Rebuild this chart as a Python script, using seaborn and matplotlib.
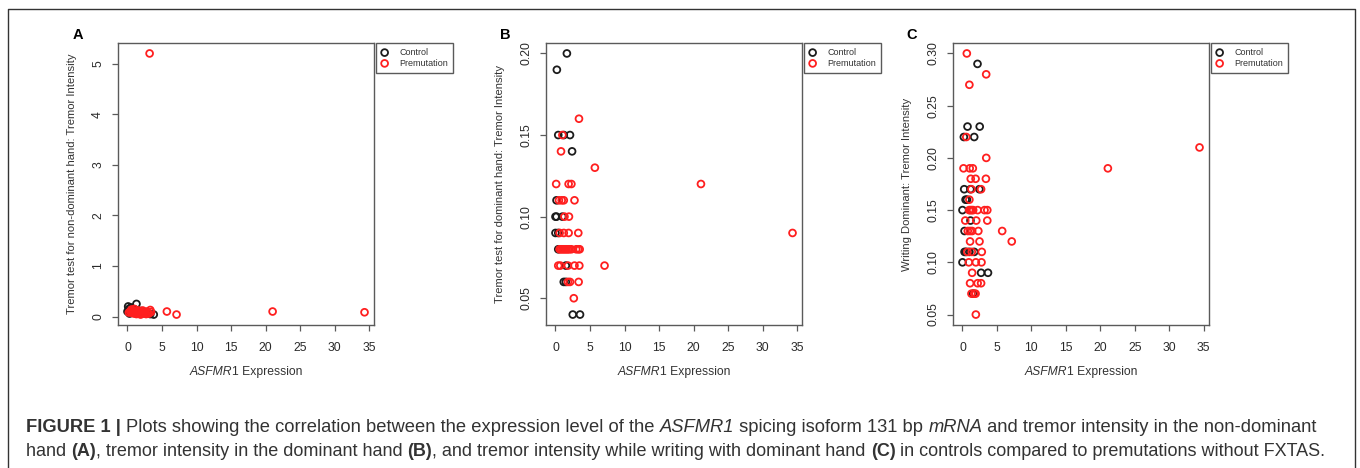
import numpy as np
import pandas as pd
import matplotlib
matplotlib.use('Agg')
import matplotlib.pyplot as plt
import seaborn as sns
from matplotlib.lines import Line2D
from matplotlib.ticker import MultipleLocator

# ---- data ----
groups = ['Control', 'Premutation']

# A: non-dominant hand
a_ctrl_x = [0.0, 0.2, 0.3, 0.5, 0.7, 1.0, 1.3, 1.6, 2.0, 2.4, 2.8, 3.3, 3.8, 0.1, 0.6, 1.2, 2.2]
a_ctrl_y = [0.10, 0.15, 0.06, 0.18, 0.12, 0.14, 0.25, 0.09, 0.11, 0.07, 0.08, 0.05, 0.04, 0.20, 0.08, 0.13, 0.10]
a_prem_x = [0.2, 0.4, 0.5, 0.7, 0.8, 0.9, 1.0, 1.1, 1.2, 1.3, 1.4, 1.5, 1.6, 1.7, 1.8, 1.9, 2.0, 2.1,
            2.3, 2.5, 2.7, 2.9, 3.1, 3.3, 3.4, 0.6, 1.0, 1.5, 2.2, 2.8, 3.2, 5.7, 7.1, 21.0, 34.3]
a_prem_y = [0.08, 0.10, 0.12, 0.07, 0.09, 0.11, 0.06, 0.08, 0.10, 0.05, 0.07, 0.09, 0.12, 0.06, 0.08, 0.04,
            0.07, 0.09, 0.06, 0.08, 0.05, 0.07, 0.06, 0.13, 0.09, 0.14, 0.15, 0.11, 0.12, 0.10,
            5.20, 0.10, 0.04, 0.10, 0.085]

# B: dominant hand
b_ctrl_x = [1.65, 0.2, 0.4, 1.2, 2.1, 2.4, 0.15, 0.0, 0.15, 1.0, 0.0, 0.4, 0.4, 1.5, 1.2, 1.5, 2.5, 3.55]
b_ctrl_y = [0.20, 0.19, 0.15, 0.15, 0.15, 0.14, 0.11, 0.10, 0.10, 0.10, 0.09, 0.09, 0.08, 0.07, 0.06, 0.06, 0.04, 0.04]
b_prem_x = [3.4, 1.0, 0.8, 5.7, 0.1, 1.9, 2.3, 21.05, 0.5, 0.9, 1.2, 2.75, 1.3, 1.95,
            0.6, 1.2, 1.9, 3.3, 34.3,
            0.6, 0.8, 1.0, 1.2, 1.4, 1.6, 1.8, 2.0, 2.3, 3.0, 3.3, 3.5,
            0.4, 0.7, 1.8, 2.75, 3.45, 7.1,
            1.8, 2.1, 3.35, 2.65]
b_prem_y = [0.16, 0.15, 0.14, 0.13, 0.12, 0.12, 0.12, 0.12, 0.11, 0.11, 0.11, 0.11, 0.10, 0.10,
            0.09, 0.09, 0.09, 0.09, 0.09,
            0.08, 0.08, 0.08, 0.08, 0.08, 0.08, 0.08, 0.08, 0.08, 0.08, 0.08, 0.08,
            0.07, 0.07, 0.07, 0.07, 0.07, 0.07,
            0.06, 0.06, 0.06, 0.05]

# C: writing, dominant hand
c_ctrl_x = [2.18, 0.73, 2.5, 0.2, 1.7, 0.25, 1.15, 2.45, 0.45, 0.65, 0.0, 1.16, 0.3,
            0.3, 0.5, 1.0, 1.7, 0.0, 2.7, 3.7, 1.55]
c_ctrl_y = [0.29, 0.23, 0.23, 0.22, 0.22, 0.17, 0.17, 0.17, 0.16, 0.16, 0.15, 0.14, 0.13,
            0.11, 0.11, 0.11, 0.11, 0.10, 0.09, 0.09, 0.07]
c_prem_x = [0.63, 3.44, 1.0, 0.55, 34.4, 3.45, 0.15, 1.05, 1.5, 21.1, 1.2, 1.9, 3.4, 1.3, 2.7, 1.0,
            0.97, 1.16, 1.35, 1.55, 2.2, 3.2, 3.6, 0.4, 2.0, 3.6, 0.77, 1.1, 1.4, 2.3, 5.76,
            1.1, 2.47, 7.15, 0.7, 1.35, 2.8, 0.92, 1.94, 2.76, 1.4, 1.1, 2.2, 2.7, 1.3, 1.7, 1.9, 1.94]
c_prem_y = [0.30, 0.28, 0.27, 0.22, 0.21, 0.20, 0.19, 0.19, 0.19, 0.19, 0.18, 0.18, 0.18, 0.17, 0.17, 0.16,
            0.15, 0.15, 0.15, 0.15, 0.15, 0.15, 0.15, 0.14, 0.14, 0.14, 0.13, 0.13, 0.13, 0.13, 0.13,
            0.12, 0.12, 0.12, 0.11, 0.11, 0.11, 0.10, 0.10, 0.10, 0.09, 0.08, 0.08, 0.08, 0.07, 0.07, 0.07, 0.05]

x_ticks = [0, 5, 10, 15, 20, 25, 30, 35]
ylabels = ['Tremor test for non-dominant hand: Tremor Intensity',
           'Tremor test for dominant hand: Tremor Intensity',
           'Writing Dominant: Tremor Intensity']
letters = ['A', 'B', 'C']

sns.set_style('ticks')
plt.rcParams['font.family'] = ['Liberation Sans', 'DejaVu Sans']

W, H = 1360, 468
fig = plt.figure(figsize=(W / 100, H / 100), dpi=100)
r = fig.canvas.get_renderer()

CTRL = '#1c1c1c'
PREM = '#ff1f1f'
GREY = '#5a5a5a'
TXT = '#333333'


def text_width(s, **kw):
    t1 = fig.text(0, 0, s + 'x', **kw)
    t2 = fig.text(0, 0, 'x', **kw)
    w = t1.get_window_extent(r).width - t2.get_window_extent(r).width
    t1.remove()
    t2.remove()
    return w


def rich_line(x_px, y_px, pieces, size, center=False, color=TXT):
    widths = [text_width(s, fontsize=size, fontweight=wt, fontstyle=st) for s, wt, st in pieces]
    x = x_px - sum(widths) / 2 if center else x_px
    for (s, wt, st), w in zip(pieces, widths):
        fig.text(x / W, 1 - y_px / H, s, fontsize=size, fontweight=wt, fontstyle=st,
                 ha='left', va='center', color=color)
        x += w


panel_data = [
    (a_ctrl_x, a_ctrl_y, a_prem_x, a_prem_y, 1.0),
    (b_ctrl_x, b_ctrl_y, b_prem_x, b_prem_y, 0.05),
    (c_ctrl_x, c_ctrl_y, c_prem_x, c_prem_y, 0.05),
]
lefts = [118, 546, 953]
letter_x = [78, 505, 912]
ax_w, ax_top, ax_bot = 256, 43, 325

for i, (cx, cy, px, py, ystep) in enumerate(panel_data):
    left = lefts[i]
    ax = fig.add_axes([left / W, (H - ax_bot) / H, ax_w / W, (ax_bot - ax_top) / H])
    df = pd.DataFrame({'x': cx + px, 'y': cy + py,
                       'group': [groups[0]] * len(cx) + [groups[1]] * len(px)})
    for g, col in zip(groups, [CTRL, PREM]):
        d = df[df['group'] == g]
        sns.scatterplot(data=d, x='x', y='y', ax=ax, s=24, color=col, facecolor='none',
                        edgecolor=col, linewidth=1.3, label=g)
    ax.margins(x=0.04, y=0.04)
    ax.set_xticks(x_ticks)
    ax.yaxis.set_major_locator(MultipleLocator(ystep))
    for sp in ax.spines.values():
        sp.set_color(GREY)
        sp.set_linewidth(1.0)
    ax.tick_params(axis='both', color=GREY, length=4, width=0.9, labelsize=8.7, labelcolor='#2a2a2a')
    ax.tick_params(axis='x', pad=8)
    ax.tick_params(axis='y', pad=6, labelrotation=90)
    for lab in ax.get_yticklabels():
        lab.set_va('center')
    ax.set_xlabel('')
    ax.set_ylabel(ylabels[i], fontsize=8.1, color=TXT)
    ax.yaxis.label.set_va('center')
    ax.yaxis.set_label_coords(-46 / ax_w, 0.5)

    leg = ax.legend(loc='upper left', bbox_to_anchor=(1.008, 1.0), borderaxespad=0,
                    frameon=True, fancybox=False, fontsize=6.5, handlelength=0.8,
                    handletextpad=1.2, borderpad=0.55, labelspacing=0.2, framealpha=1)
    leg.get_frame().set_edgecolor(GREY)
    leg.get_frame().set_linewidth(1.0)
    for t in leg.get_texts():
        t.set_color(TXT)

    rich_line(left + ax_w / 2, 372, [('ASFMR', 'normal', 'italic'), ('1 Expression', 'normal', 'normal')],
              8.7, center=True)
    fig.text(letter_x[i] / W, 1 - 35 / H, letters[i], fontsize=10.5, fontweight='bold',
             ha='center', va='center', color='black')

# caption
rich_line(26, 428, [('FIGURE 1 | ', 'bold', 'normal'),
                    ('Plots showing the correlation between the expression level of the ', 'normal', 'normal'),
                    ('ASFMR1', 'normal', 'italic'),
                    (' spicing isoform 131 bp ', 'normal', 'normal'),
                    ('mRNA', 'normal', 'italic'),
                    (' and tremor intensity in the non-dominant', 'normal', 'normal')], 13.2)
rich_line(26, 451, [('hand ', 'normal', 'normal'), ('(A)', 'bold', 'normal'),
                    (', tremor intensity in the dominant hand ', 'normal', 'normal'), ('(B)', 'bold', 'normal'),
                    (', and tremor intensity while writing with dominant hand ', 'normal', 'normal'),
                    ('(C)', 'bold', 'normal'),
                    (' in controls compared to premutations without FXTAS.', 'normal', 'normal')], 12.95)

# outer frame (open at the bottom)
fig.add_artist(Line2D([8 / W, 8 / W, 1355 / W, 1355 / W], [0, 1 - 9 / H, 1 - 9 / H, 0],
                      transform=fig.transFigure, color='#333333', lw=1.0))

fig.savefig('out.png', dpi=100)
